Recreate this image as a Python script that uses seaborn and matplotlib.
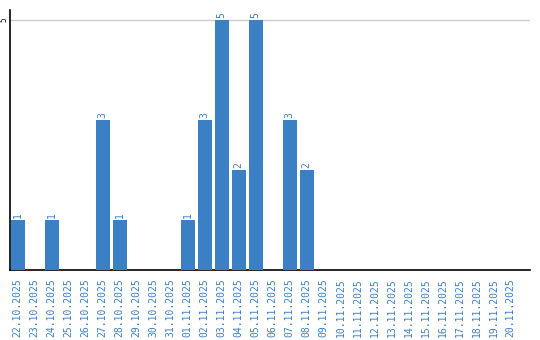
import matplotlib
matplotlib.use("Agg")
import matplotlib.pyplot as plt
import seaborn as sns
import pandas as pd

dates = ["22.10.2025", "23.10.2025", "24.10.2025", "25.10.2025", "26.10.2025",
         "27.10.2025", "28.10.2025", "29.10.2025", "30.10.2025", "31.10.2025",
         "01.11.2025", "02.11.2025", "03.11.2025", "04.11.2025", "05.11.2025",
         "06.11.2025", "07.11.2025", "08.11.2025", "09.11.2025", "10.11.2025",
         "11.11.2025", "12.11.2025", "13.11.2025", "14.11.2025", "15.11.2025",
         "16.11.2025", "17.11.2025", "18.11.2025", "19.11.2025", "20.11.2025"]
counts = [1, 0, 1, 0, 0, 3, 1, 0, 0, 0,
          1, 3, 5, 2, 5, 0, 3, 2, 0, 0,
          0, 0, 0, 0, 0, 0, 0, 0, 0, 0]
y_ticks = [5]

df = pd.DataFrame({"date": dates, "count": counts})

sns.set_style("white")
plt.rcParams["font.family"] = ["DejaVu Sans Mono", "DejaVu Sans"]

fig = plt.figure(figsize=(5.4, 3.4), dpi=100)
ax = fig.add_axes([10 / 540, 70 / 340, 520 / 540, 260 / 340])

blue = "#3b7fc4"
sns.barplot(data=df, x="date", y="count", color=blue, saturation=1,
            width=0.82, ax=ax, zorder=3, linewidth=0, edgecolor="none")

ax.set_xlim(-0.45, len(dates) - 1 + 1.15)
ax.set_ylim(0, 5.2)
ax.set_yticks(y_ticks)
ax.set_yticklabels([str(v) for v in y_ticks], rotation=90, va="center",
                   ha="center", fontsize=5.5, color="black")
ax.yaxis.grid(True, color="#cccccc", linewidth=1, zorder=0)
ax.tick_params(axis="y", length=0, pad=4)
ax.tick_params(axis="x", length=0, pad=6)
ax.set_xticks(range(len(dates)))
ax.set_xticklabels(dates, rotation=90, fontsize=7, color=blue)
ax.set_xlabel("")
ax.set_ylabel("")

for side in ["top", "right"]:
    ax.spines[side].set_visible(False)
for side in ["left", "bottom"]:
    ax.spines[side].set_visible(True)
    ax.spines[side].set_color("black")
    ax.spines[side].set_linewidth(1.2)

for i, v in enumerate(counts):
    if v > 0:
        ax.text(i, v + 0.04, str(v), rotation=90, ha="center", va="bottom",
                fontsize=7, color=blue, zorder=4)

fig.savefig("out.png", dpi=100)
